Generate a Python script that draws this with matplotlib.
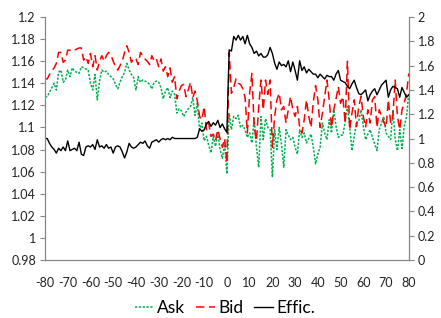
import matplotlib
matplotlib.use("Agg")
import matplotlib.pyplot as plt
import numpy as np

plt.rcParams['font.family'] = ['Lato', 'DejaVu Sans']

# event time -80 .. 80
days = list(range(-80, 81))

# Ask (left axis)
ask = [
    1.128, 1.128, 1.132, 1.136, 1.140, 1.134, 1.150, 1.152, 1.141, 1.143,   # -80..-71
    1.152, 1.146, 1.154, 1.151, 1.150, 1.149, 1.155, 1.154, 1.153, 1.152,   # -70..-61
    1.140, 1.134, 1.148, 1.125, 1.142, 1.152, 1.150, 1.151, 1.148, 1.146,   # -60..-51
    1.144, 1.139, 1.135, 1.141, 1.146, 1.150, 1.158, 1.152, 1.148, 1.145,   # -50..-41
    1.134, 1.146, 1.141, 1.143, 1.142, 1.141, 1.139, 1.135, 1.141, 1.142,   # -40..-31
    1.141, 1.136, 1.126, 1.133, 1.136, 1.127, 1.133, 1.130, 1.113, 1.117,   # -30..-21
    1.115, 1.110, 1.114, 1.117, 1.119, 1.127, 1.111, 1.122, 1.098, 1.104,   # -20..-11
    1.088, 1.092, 1.084, 1.077, 1.092, 1.083, 1.095, 1.080, 1.072, 1.085,   # -10..-1
    1.058,                                                                  # 0
    1.113, 1.098, 1.110, 1.108, 1.111, 1.100, 1.102, 1.098, 1.091, 1.095,   # 1..10
    1.086, 1.108, 1.082, 1.064, 1.110, 1.089, 1.108, 1.100, 1.098, 1.055,   # 11..20
    1.098, 1.080, 1.100, 1.085, 1.064, 1.098, 1.093, 1.089, 1.091, 1.082,   # 21..30
    1.076, 1.098, 1.091, 1.095, 1.086, 1.090, 1.094, 1.082, 1.067, 1.076,   # 31..40
    1.082, 1.104, 1.095, 1.089, 1.107, 1.095, 1.116, 1.101, 1.091, 1.093,   # 41..50
    1.093, 1.105, 1.119, 1.101, 1.079, 1.092, 1.104, 1.106, 1.116, 1.101,   # 51..60
    1.089, 1.094, 1.098, 1.091, 1.085, 1.079, 1.098, 1.104, 1.110, 1.095,   # 61..70
    1.092, 1.089, 1.116, 1.090, 1.079, 1.098, 1.081, 1.101, 1.110, 1.131,   # 71..80
]

# Bid (left axis)
bid = [
    1.144, 1.144, 1.148, 1.151, 1.154, 1.158, 1.168, 1.168, 1.159, 1.161,
    1.170, 1.170, 1.171, 1.170, 1.171, 1.172, 1.172, 1.161, 1.164, 1.158,
    1.167, 1.155, 1.165, 1.152, 1.160, 1.165, 1.160, 1.165, 1.168, 1.166,
    1.160, 1.155, 1.152, 1.156, 1.160, 1.168, 1.174, 1.168, 1.159, 1.163,
    1.162, 1.157, 1.168, 1.165, 1.162, 1.160, 1.157, 1.165, 1.160, 1.162,
    1.155, 1.162, 1.151, 1.155, 1.146, 1.154, 1.141, 1.146, 1.126, 1.133,
    1.138, 1.139, 1.128, 1.134, 1.141, 1.127, 1.133, 1.124, 1.110, 1.107,
    1.119, 1.098, 1.104, 1.092, 1.094, 1.088, 1.098, 1.090, 1.082, 1.090,
    1.068,
    1.168, 1.131, 1.136, 1.144, 1.140, 1.139, 1.135, 1.127, 1.095, 1.131,
    1.149, 1.101, 1.088, 1.119, 1.143, 1.116, 1.143, 1.130, 1.143, 1.082,
    1.110, 1.125, 1.131, 1.116, 1.119, 1.104, 1.116, 1.128, 1.116, 1.110,
    1.119, 1.100, 1.095, 1.107, 1.125, 1.110, 1.100, 1.123, 1.138, 1.125,
    1.100, 1.113, 1.128, 1.143, 1.125, 1.100, 1.116, 1.126, 1.137, 1.122,
    1.128, 1.104, 1.160, 1.098, 1.113, 1.125, 1.101, 1.119, 1.128, 1.110,
    1.100, 1.116, 1.104, 1.125, 1.128, 1.100, 1.116, 1.110, 1.105, 1.100,
    1.125, 1.104, 1.110, 1.143, 1.110, 1.098, 1.116, 1.122, 1.131, 1.149,
]

# Effic. (right axis)
effic = [
    1.00, 1.00, 0.96, 0.93, 0.91, 0.88, 0.92, 0.90, 0.93, 0.90,
    0.98, 0.90, 0.91, 0.92, 0.90, 0.97, 0.87, 0.86, 0.93, 0.94,
    0.93, 0.95, 0.91, 0.99, 0.93, 0.94, 0.92, 0.95, 0.92, 0.93,
    0.88, 0.93, 0.94, 0.93, 0.89, 0.84, 0.89, 0.96, 0.93, 0.92,
    0.93, 0.95, 0.97, 0.96, 0.98, 0.94, 0.92, 0.97, 0.98, 0.99,
    0.97, 0.99, 1.00, 0.99, 1.00, 0.99, 1.01, 1.00, 1.00, 1.00,
    1.00, 1.00, 1.00, 1.00, 1.00, 1.00, 1.00, 1.01, 1.08, 1.06,
    1.07, 1.12, 1.14, 1.10, 1.13, 1.11, 1.15, 1.09, 1.12, 1.08,
    1.05,
    1.73, 1.72, 1.84, 1.81, 1.85, 1.81, 1.84, 1.78, 1.85, 1.78,
    1.75, 1.70, 1.72, 1.68, 1.70, 1.67, 1.67, 1.69, 1.75, 1.70,
    1.62, 1.57, 1.63, 1.60, 1.61, 1.59, 1.64, 1.55, 1.63, 1.56,
    1.48, 1.64, 1.56, 1.59, 1.54, 1.57, 1.55, 1.53, 1.53, 1.50,
    1.53, 1.51, 1.49, 1.52, 1.51, 1.51, 1.48, 1.53, 1.56, 1.48,
    1.47, 1.46, 1.43, 1.41, 1.45, 1.48, 1.42, 1.37, 1.36, 1.38,
    1.40, 1.31, 1.36, 1.39, 1.41, 1.36, 1.40, 1.44, 1.46, 1.48,
    1.34, 1.40, 1.43, 1.42, 1.41, 1.34, 1.42, 1.38, 1.34, 1.36,
]

left_ticks = [0.98, 1.0, 1.02, 1.04, 1.06, 1.08, 1.1, 1.12, 1.14, 1.16, 1.18, 1.2]
right_ticks = [0, 0.2, 0.4, 0.6, 0.8, 1.0, 1.2, 1.4, 1.6, 1.8, 2.0]
x_ticks = list(range(-80, 81, 10))

def fmt(v):
    return ('%.2f' % v).rstrip('0').rstrip('.')

fig = plt.figure(figsize=(4.41, 3.18), dpi=100)
ax = fig.add_axes([0.102, 0.1824, 0.825, 0.764])
ax2 = ax.twinx()

axis_grey = '#868686'
l1, = ax.plot(days, ask, color='#00B050', linestyle=(0, (1.5, 1)), linewidth=1.1, label='Ask')
l2, = ax.plot(days, bid, color='#FF0000', linestyle=(0, (5.5, 3)), linewidth=1.1, label='Bid')
l3, = ax2.plot(days, effic, color='black', linewidth=1.0, label='Effic.')

ax.set_xlim(-80, 80)
ax.set_ylim(0.98, 1.2)
ax2.set_ylim(0, 2)
ax.set_xticks(x_ticks)
ax.set_xticklabels([str(t) for t in x_ticks])
ax.set_yticks(left_ticks)
ax.set_yticklabels([fmt(t) for t in left_ticks])
ax2.set_yticks(right_ticks)
ax2.set_yticklabels([fmt(t) for t in right_ticks])

for a in (ax, ax2):
    a.spines['top'].set_visible(False)
    for s in ('left', 'right', 'bottom'):
        a.spines[s].set_color(axis_grey)
        a.spines[s].set_linewidth(0.8)
ax.tick_params(axis='y', colors=axis_grey, labelcolor='#222222', length=3.5, width=0.8, labelsize=9, pad=3)
ax2.tick_params(axis='y', colors=axis_grey, labelcolor='#222222', length=3.5, width=0.8, labelsize=9, pad=3)
ax.tick_params(axis='x', length=0, labelsize=9, labelcolor='#222222', pad=12)

fig.legend(handles=[l1, l2, l3], loc='center', bbox_to_anchor=(0.51, 0.03),
           ncol=3, frameon=False, fontsize=12.5, handlelength=1.1,
           handletextpad=0.2, columnspacing=0.6)

fig.savefig('out.png', dpi=100)
